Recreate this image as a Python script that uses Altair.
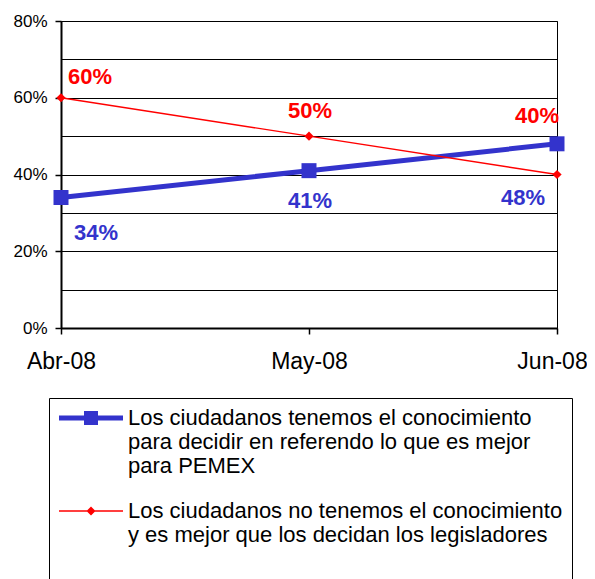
import altair as alt
import pandas as pd

# ---------------- data ----------------
months = ["Abr-08", "May-08", "Jun-08"]
series_names = [
    "Los ciudadanos tenemos el conocimiento\npara decidir en referendo lo que es mejor\npara PEMEX",
    "Los ciudadanos no tenemos el conocimiento\ny es mejor que los decidan los legisladores",
]
blue_values = [0.34, 0.41, 0.48]
red_values = [0.60, 0.50, 0.40]
y_grid_values = [0.0, 0.1, 0.2, 0.3, 0.4, 0.5, 0.6, 0.7, 0.8]

# ---------------- style ----------------
BLUE = "#3333CC"
RED = "#FF0000"
FONT = "Liberation Sans"

# label offsets (dx, dy) per series index and month
label_offsets = {
    (0, "Abr-08"): (35, 35),
    (0, "May-08"): (1, 30),
    (0, "Jun-08"): (-34, 54),
    (1, "Abr-08"): (29, -21),
    (1, "May-08"): (1, -25),
    (1, "Jun-08"): (-20, -59),
}

# legend symbol paths (unit coords, scaled by sqrt(size)/2 = 10px)
blue_path = "M-3.2,-0.25H3.2V0.25H-3.2Z M-0.7,-0.7H0.7V0.7H-0.7Z"
red_path = "M-3.2,-0.07H3.2V0.07H-3.2Z M0,-0.45L0.45,0L0,0.45L-0.45,0Z"

rows = []
for idx, vals in enumerate([blue_values, red_values]):
    for m, v in zip(months, vals):
        rows.append({"month": m, "series": series_names[idx], "idx": idx, "value": v})
df = pd.DataFrame(rows)

base = alt.Chart(df)

x_enc = alt.X(
    "month:O",
    sort=months,
    scale=alt.Scale(type="point", padding=0),
    title=None,
    axis=alt.Axis(
        labelAngle=0, labelFontSize=23, labelFont=FONT, labelColor="black",
        labelPadding=16, tickSize=6, tickColor="black", tickWidth=1.5,
        labelOffset={"condition": {"test": "datum.value == 'Jun-08'", "value": -5}, "value": 0},
        domainColor="black", domainWidth=2, grid=False,
    ),
)
y_enc = alt.Y(
    "value:Q",
    scale=alt.Scale(domain=[0, 0.8], nice=False, zero=True),
    title=None,
    axis=alt.Axis(
        values=y_grid_values, format=".0%",
        labelExpr="round(datum.value*10) % 2 == 0 ? datum.label : ''",
        tickOpacity={"condition": {"test": "round(datum.value*10) % 2 == 0", "value": 1}, "value": 0},
        labelFontSize=17, labelFont=FONT, labelColor="black", labelPadding=8,
        tickSize=6, tickColor="black", tickWidth=1.5,
        domainColor="black", domainWidth=2,
        grid=True, gridColor="black", gridWidth=1, gridOpacity=1,
    ),
)

blue_line = base.transform_filter(alt.datum.idx == 0).mark_line(
    color=BLUE, strokeWidth=5).encode(x=x_enc, y=y_enc)
red_line = base.transform_filter(alt.datum.idx == 1).mark_line(
    color=RED, strokeWidth=1.4).encode(x=x_enc, y=y_enc)
blue_pts = base.transform_filter(alt.datum.idx == 0).mark_point(
    shape="square", filled=True, size=225, color=BLUE, opacity=1).encode(x=x_enc, y=y_enc)
red_pts = base.transform_filter(alt.datum.idx == 1).mark_point(
    shape="diamond", filled=True, size=85, color=RED, opacity=1).encode(x=x_enc, y=y_enc)

text_layers = []
for (idx, m), (dx, dy) in label_offsets.items():
    text_layers.append(
        base.transform_filter((alt.datum.idx == idx) & (alt.datum.month == m))
        .mark_text(dx=dx, dy=dy, fontSize=22, fontWeight="bold", font=FONT,
                   color=BLUE if idx == 0 else RED, align="center", baseline="middle")
        .encode(x=x_enc, y=y_enc, text=alt.Text("value:Q", format=".0%"))
    )

leg = alt.Legend(
    title=None, orient="none", legendX=-12, legendY=377,
    labelExpr="datum.index == 1 ? split(datum.label + '\\n \\n ', '\\n') : split(datum.label, '\\n')",
    labelFont=FONT, labelFontSize=22, labelColor="black", labelLimit=700,
    labelBaseline="middle", labelOffset=26,
    symbolSize=400, symbolOffset=22, symbolStrokeWidth=0,
    strokeColor="black", fillColor="white", padding=9, cornerRadius=0,
    rowPadding=23,
)
legend_layer = base.transform_filter("false").mark_point(
    filled=True, opacity=1, size=400, strokeWidth=0).encode(
    x=x_enc, y=y_enc,
    color=alt.Color("series:N", scale=alt.Scale(domain=series_names, range=[BLUE, RED]), legend=leg),
    shape=alt.Shape("series:N", scale=alt.Scale(domain=series_names, range=[blue_path, red_path]), legend=leg),
)

chart = alt.layer(
    blue_line, red_line, blue_pts, red_pts, *text_layers, legend_layer
).properties(
    width=496, height=307,
    autosize=alt.AutoSizeParams(type="none"),
    padding={"left": 53, "top": 13, "right": 30, "bottom": 270},
).configure(font=FONT).configure_view(stroke="black", strokeWidth=1)

chart.save("out.html", embed_options={"renderer": "svg", "actions": False})
